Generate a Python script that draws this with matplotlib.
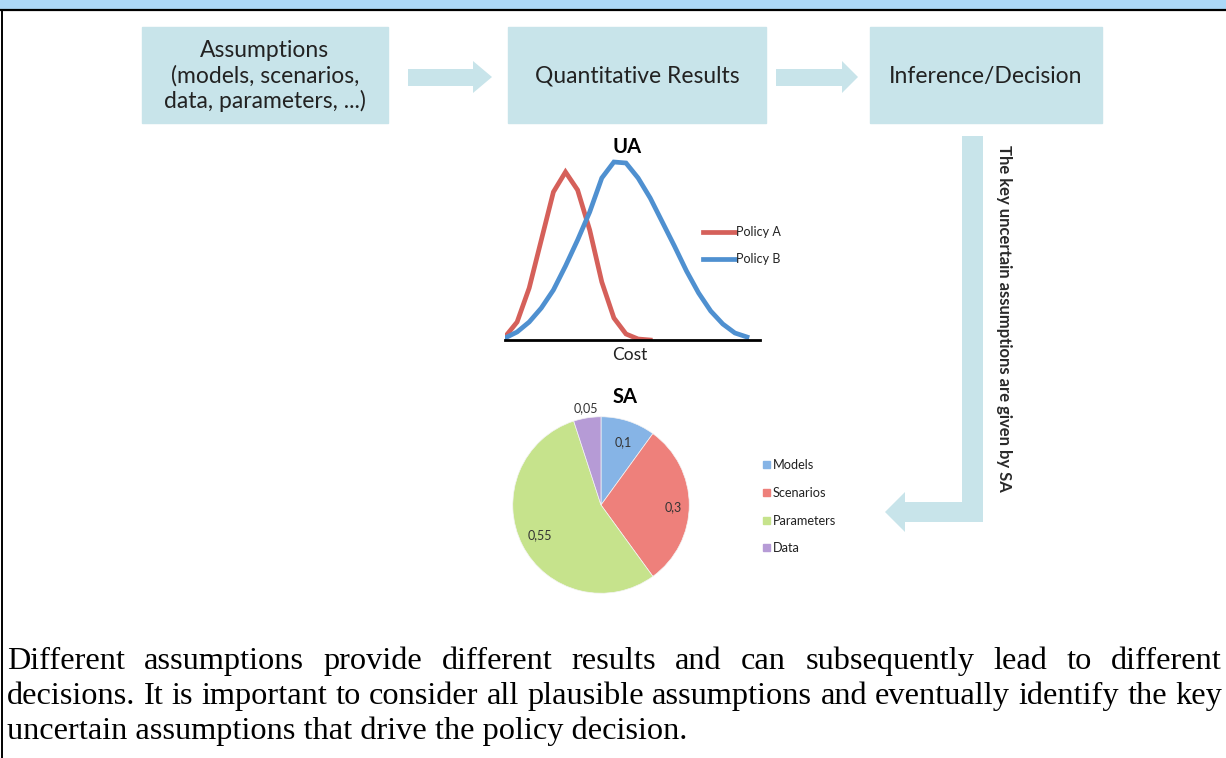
import numpy as np
import matplotlib.pyplot as plt
from matplotlib.patches import Rectangle, Polygon

# UA curves (relative density over cost)
cost_idx = np.arange(21)
policy_a = [3, 18, 52, 100, 148, 168, 150, 110, 58, 22, 6, 1, 0]
policy_b = [2, 8, 18, 32, 50, 74, 100, 128, 162, 178, 177, 162, 142, 118, 94, 69, 47, 29, 16, 7, 3]
ua_labels = ["Policy A", "Policy B"]

# SA shares
sa_labels = ["Models", "Scenarios", "Parameters", "Data"]
sa_values = [0.1, 0.3, 0.55, 0.05]

box_texts = ["Assumptions\n(models, scenarios,\ndata, parameters, ...)",
             "Quantitative Results", "Inference/Decision"]
side_text = "The key uncertain assumptions are given by SA"
caption = ["Different assumptions provide different results and can subsequently lead to different",
           "decisions. It is important to consider all plausible assumptions and eventually identify the key",
           "uncertain assumptions that drive the policy decision."]

red = "#D5605A"
blue = "#4F90D0"
sa_colors = ["#86B4E6", "#EE807B", "#C6E38C", "#B69BD6"]
box_col = "#C8E4EA"
sans = "Lato"

W, H = 1226, 758
fig = plt.figure(figsize=(W / 100, H / 100), dpi=100)
bg = fig.add_axes([0, 0, 1, 1])
bg.set_xlim(0, W)
bg.set_ylim(H, 0)
bg.axis("off")

# frame
bg.add_patch(Rectangle((0, 0), W, 9, color="#ADD8F8", zorder=1))
bg.plot([0, W], [9.5, 9.5], color="black", lw=1.6, zorder=2)
bg.plot([1.5, 1.5], [9.5, H], color="black", lw=1.4, zorder=2)

# flow boxes
boxes = [(142, 388), (508, 766), (870, 1102)]
for (x0, x1), t in zip(boxes, box_texts):
    bg.add_patch(Rectangle((x0, 27), x1 - x0, 96, color=box_col, zorder=1))
    bg.text((x0 + x1) / 2, 76, t, ha="center", va="center", fontsize=16.5,
            family=sans, color="#222222", linespacing=1.2)

# straight arrows
for x0, x1, tip in [(408, 473, 492), (776, 842, 858)]:
    bg.add_patch(Polygon([(x0, 69), (x1, 69), (x1, 61), (tip, 77), (x1, 93), (x1, 86), (x0, 86)],
                         closed=True, color=box_col, lw=0))

# bent arrow back to SA
bg.add_patch(Polygon([(962, 136), (983, 136), (983, 522), (905, 522), (905, 532), (885, 512),
                      (905, 492), (905, 502), (962, 502)], closed=True, color=box_col, lw=0))
bg.text(1004, 318, side_text, rotation=270, ha="center", va="center", fontsize=12,
        family=sans, fontweight="bold", color="#2a2a2a")

# UA chart
ua = fig.add_axes([505 / W, (H - 340) / H, 255 / W, 190 / H])
ua.plot(cost_idx[:len(policy_a)], policy_a, color=red, lw=3.4, solid_joinstyle="miter")
ua.plot(cost_idx, policy_b, color=blue, lw=3.4, solid_joinstyle="miter")
ua.set_xlim(0, 255 / 12.1)
ua.set_ylim(0, 190)
ua.set_xticks([])
ua.set_yticks([])
for s in ["top", "right", "left"]:
    ua.spines[s].set_visible(False)
ua.spines["bottom"].set_linewidth(2)
ua.patch.set_alpha(0)

bg.text(627, 147, "UA", ha="center", va="center", fontsize=14.5, fontweight="bold", family=sans)
bg.text(630, 355, "Cost", ha="center", va="center", fontsize=12.5, family=sans, color="#222222")
for lab, col, y in zip(ua_labels, [red, blue], [232, 259]):
    bg.plot([703, 735], [y, y], color=col, lw=3.4)
    bg.text(736, y, lab, ha="left", va="center", fontsize=9, family=sans, color="#222222")

# SA pie
sa = fig.add_axes([(601 - 90) / W, (H - 505 - 90) / H, 180 / W, 180 / H])
sa.pie(sa_values, colors=sa_colors, startangle=90, counterclock=False,
       wedgeprops=dict(linewidth=0.5, edgecolor="#f4f4f4"))
sa.set_xlim(-1.02, 1.02)
sa.set_ylim(-1.02, 1.02)
sa.set_aspect("equal")

bg.text(625, 397, "SA", ha="center", va="center", fontsize=14.5, fontweight="bold", family=sans)
label_pos = [(623, 442), (673, 507), (540, 535), (586, 408)]
for v, (x, y) in zip(sa_values, label_pos):
    sa.text(x, y, str(v).replace(".", ","), ha="center", va="center", fontsize=9,
            family=sans, color="#333333", transform=bg.transData, clip_on=False)
for lab, col, y in zip(sa_labels, sa_colors, [465, 493, 521, 548]):
    bg.add_patch(Rectangle((763, y - 4), 7, 7, color=col))
    bg.text(773, y, lab, ha="left", va="center", fontsize=9.2, family=sans, color="#222222")

# caption: size so the second line just fills the width, then justify lines 1-2
left, right = 7, 1222
fig.canvas.draw()
rend = fig.canvas.get_renderer()
probe = bg.text(0, 0, caption[1], fontsize=20, family="Liberation Serif")
cap_size = 20 * (right - left) / probe.get_window_extent(rend).width
probe.remove()
cap_kw = dict(fontsize=cap_size, family="Liberation Serif", va="baseline", ha="left", color="black")
for i, line in enumerate(caption):
    y = 669 + 35 * i
    if i == len(caption) - 1:
        bg.text(left, y, line, **cap_kw)
        continue
    words = [bg.text(0, y, w, **cap_kw) for w in line.split()]
    widths = [t.get_window_extent(rend).width for t in words]
    gap = (right - left - sum(widths)) / (len(words) - 1)
    x = left
    for t, w in zip(words, widths):
        t.set_x(x)
        x += w + gap

fig.savefig("out.png", dpi=100)
